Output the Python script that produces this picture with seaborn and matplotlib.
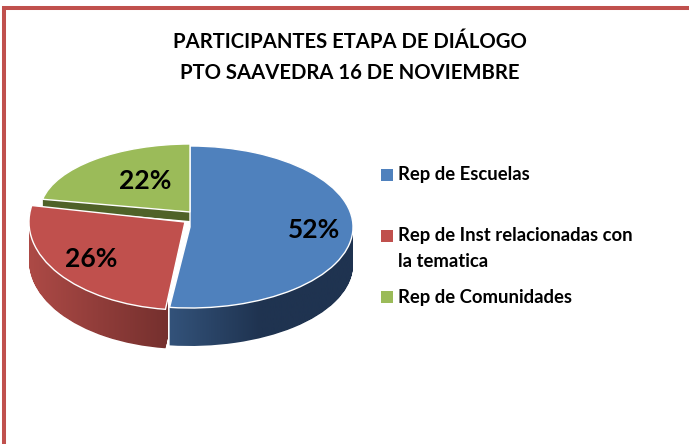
import numpy as np
import matplotlib.pyplot as plt
from matplotlib.colors import LinearSegmentedColormap
from matplotlib.patches import Rectangle
from matplotlib.path import Path
from matplotlib.transforms import Affine2D
import seaborn as sns

sns.set_theme(style="white")
plt.rcParams['font.family'] = ['Lato', 'DejaVu Sans']

title_lines = ['PARTICIPANTES ETAPA DE DIÁLOGO', 'PTO SAAVEDRA 16 DE NOVIEMBRE']
categories = ['Rep de Escuelas', 'Rep de Inst relacionadas con\nla tematica', 'Rep de Comunidades']
shares = [52, 26, 22]
colors = sns.color_palette(['#4f81bd', '#c0504d', '#9bbb59'])

# ellipse of each slice in picture pixels: cx, cy, rx, ry (perspective differs per slice)
slice_geom = [(190, 227, 163, 81), (185, 222, 156, 88), (190, 212, 150, 68)]
depth = [38, 39, 9]
label_pos = [(314, 230), (91, 259), (145, 181)]

# faces stack from back to front
side_z = [4, 2, 1]
top_z = [5, 3, 6]
side_cmaps = [
    LinearSegmentedColormap.from_list('b', ['#34547c', '#1f3350', '#1f3350']),
    LinearSegmentedColormap.from_list('r', ['#ad4a46', '#75302e']),
    LinearSegmentedColormap.from_list('g', ['#4f6228', '#4f6228']),
]
side_ranges = [(165, 355), (28, 168), (30, 192)]

fig = plt.figure(figsize=(6.89, 4.44), dpi=100)
ax = fig.add_axes([0, 0, 1, 1])

wedges, texts, autotexts = ax.pie(shares, colors=colors, startangle=90, counterclock=False,
                                  autopct='%d%%', textprops={'fontsize': 19, 'fontweight': 'bold', 'color': 'black'})
ax.set_aspect('auto')
ax.set_xlim(0, 689)
ax.set_ylim(444, 0)
ax.axis('off')

for i, w in enumerate(wedges):
    cx, cy, rx, ry = slice_geom[i]
    # extruded side: stack of the slice outline moved down, used as clip for a gradient
    base = w.get_path()
    layers = [base.transformed(Affine2D().scale(rx, -ry).translate(cx, cy + d))
              for d in range(1, depth[i] + 1)]
    side = Path.make_compound_path(*layers)
    x0, x1 = side_ranges[i]
    im = ax.imshow(np.linspace(0, 1, 128).reshape(1, -1), cmap=side_cmaps[i], aspect='auto',
                   extent=(x0, x1, 444, 0), zorder=side_z[i])
    im.set_clip_path(side, ax.transData)
    w.set_transform(Affine2D().scale(rx, -ry).translate(cx, cy) + ax.transData)
    w.set_zorder(top_z[i])

ax.set_xlim(0, 689)
ax.set_ylim(444, 0)

for t, pos in zip(autotexts, label_pos):
    t.set_position(pos)
    t.set_zorder(10)

# red frame, open on the right and at the bottom
ax.plot([4, 4, 689], [444, 8, 8], color='#c0504d', lw=2.9, solid_joinstyle='miter', clip_on=False)

ax.text(350, 42, title_lines[0], ha='center', va='center', fontsize=14.6, fontweight='bold', color='black')
ax.text(350, 73, title_lines[1], ha='center', va='center', fontsize=14.6, fontweight='bold', color='black')

# legend keeps the uneven spacing of the original
key_y = [174.5, 235.5, 297]
for c, name, y in zip(colors, categories, key_y):
    ax.add_patch(Rectangle((381, y - 6), 12, 12, color=c, lw=0))
    for j, line in enumerate(name.split('\n')):
        ax.text(398, y + j * 26, line, va='center', ha='left', fontsize=13.3, fontweight='bold', color='black')

fig.savefig('out.png', dpi=100, facecolor='white')
